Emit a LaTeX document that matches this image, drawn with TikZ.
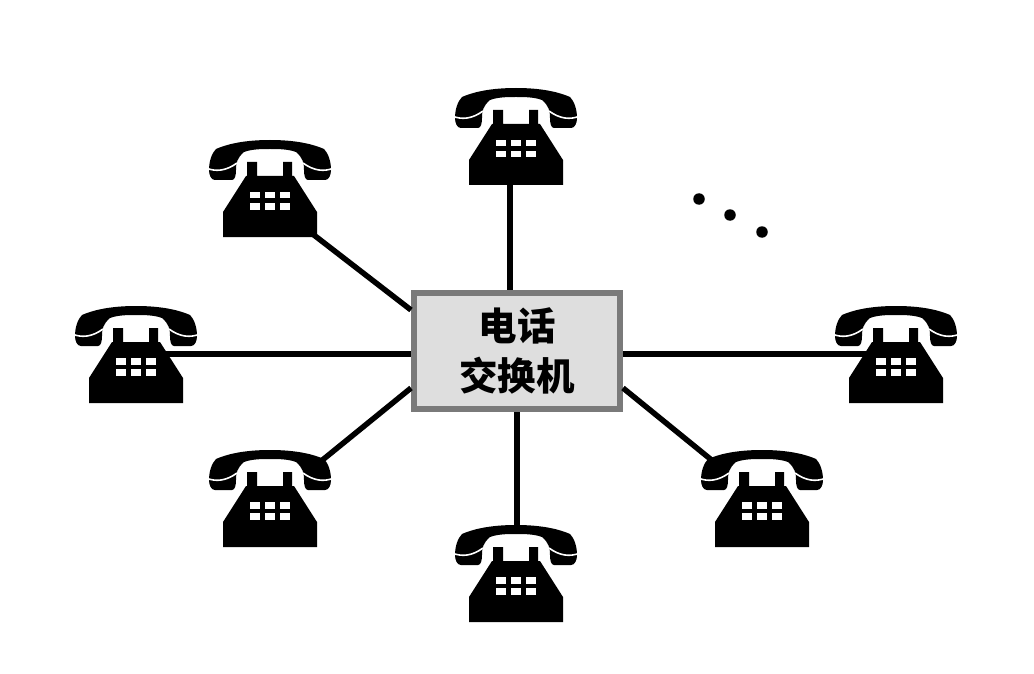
\documentclass[tikz,border=0pt]{standalone}
\usepackage{fontspec}
\newfontfamily\cjkfont{Noto Sans CJK SC}
\tikzset{
	exchange/.style={draw=black!52,line width=6pt,fill=black!13,minimum width=206pt,minimum height=116pt,inner sep=0pt,align=center,font=\cjkfont\bfseries\fontsize{38.5pt}{50pt}\selectfont},
	wire/.style={line width=5.5pt},
	dot/.style={circle,fill=black,inner sep=0pt,minimum size=11.5pt},
	phone/.pic={
		\fill (-47,0)--(-47,-25)--(-24,-61)--(-23,-61)--(-23,-75)--(-13,-75)--(-13,-61)
		--(13,-61)--(13,-75)--(22,-75)--(22,-61)--(24,-61)--(47,-25)--(47,0)--cycle;
		\fill (-54,-88) ..controls (-38,-95) and (-18,-97)..(0,-97)
		..controls (18,-97) and (38,-95)..(54,-88)
		..controls (58,-84) and (61,-76)..(61,-67)
		..controls (61,-62) and (59,-57)..(55,-57)
		--(38,-57)
		..controls (35,-57) and (34,-62)..(34,-67)
		..controls (34,-74) and (33,-79)..(26,-85)
		..controls (18,-88) and (8,-88)..(0,-88)
		..controls (-8,-88) and (-18,-88)..(-26,-85)
		..controls (-33,-79) and (-34,-74)..(-34,-67)
		..controls (-34,-62) and (-35,-57)..(-38,-57)
		--(-55,-57)
		..controls (-59,-57) and (-61,-62)..(-61,-67)
		..controls (-61,-76) and (-58,-84)..(-54,-88)
		--cycle;
		\draw[white,line width=1.6pt] (-64,-69) ..controls (-54,-65) and (-44,-66)..(-33,-74);
		\draw[white,line width=1.6pt] (64,-69) ..controls (54,-65) and (44,-66)..(33,-74);
		\foreach \kx in {-20,-5,10}
		\foreach \ky in {-45,-34}
		\fill[white] (\kx,\ky) rectangle +(10,6.5);
		\coordinate (-s) at (0,0);
		\coordinate (-t) at (0,-95);
		\coordinate (-w) at (-28,-49);
		\coordinate (-e) at (28,-49);
		\coordinate (-se) at (40,-5);
		\coordinate (-ne) at (50,-85);
		\coordinate (-nw) at (-48,-85);
	}
}
\begin{document}
\begin{tikzpicture}[x=1pt,y=-1pt]
	\useasboundingbox (0,0) rectangle (1034,674);
	\node[exchange] (box) at (517,351) {电话\\交换机};
	\pic (ptop) at (516,185) {phone};
	\pic (pul) at (270,237) {phone};
	\pic (pl) at (136,403) {phone};
	\pic (pr) at (896,403) {phone};
	\pic (pll) at (270,547) {phone};
	\pic (plr) at (762,547) {phone};
	\pic (pbot) at (516,622) {phone};
	\draw[wire] ([xshift=-6pt]ptop-s)--([xshift=-7pt]box.north);
	\draw[wire] (pul-se)--([yshift=41pt]box.west);
	\draw[wire] (pl-e)--([yshift=-3pt]box.west);
	\draw[wire] (pr-w)--([yshift=-3pt]box.east);
	\draw[wire] (pll-ne)--([yshift=-37pt]box.west);
	\draw[wire] (plr-nw)--([yshift=-37pt]box.east);
	\draw[wire] ([xshift=1pt]pbot-t)--(box.south);
	\node[dot] (dota) at (699,199) {};
	\node[dot] (dotb) at (730,215) {};
	\node[dot] (dotc) at (762,232) {};
\end{tikzpicture}
\end{document}
